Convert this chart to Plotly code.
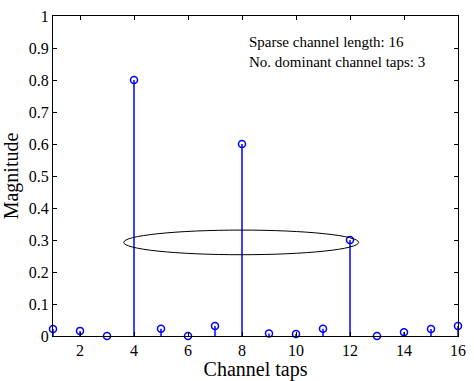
import plotly.graph_objects as go

taps = list(range(1, 17))
magnitude = [0.022, 0.016, 0.0, 0.8, 0.023, 0.0, 0.031, 0.6,
             0.008, 0.006, 0.023, 0.3, 0.0, 0.012, 0.022, 0.031]
x_ticks = [2, 4, 6, 8, 10, 12, 14, 16]
y_ticks = [0, 0.1, 0.2, 0.3, 0.4, 0.5, 0.6, 0.7, 0.8, 0.9, 1]
y_tick_labels = ["0", "0.1", "0.2", "0.3", "0.4", "0.5", "0.6", "0.7", "0.8", "0.9", "1"]
info_lines = ["Sparse channel length: 16", "No. dominant channel taps: 3"]

# ellipse highlighting dominant-tap region (data coords)
ell_x0, ell_x1 = 3.62, 12.32
ell_y0, ell_y1 = 0.254, 0.331

stem_x, stem_y = [], []
for xv, yv in zip(taps, magnitude):
    stem_x += [xv, xv, None]
    stem_y += [0, yv, None]

FONT = "Liberation Serif, Times New Roman, serif"
fig = go.Figure()
fig.add_trace(go.Scatter(x=stem_x, y=stem_y, mode="lines",
                         line=dict(color="#0000ff", width=1.5),
                         hoverinfo="skip", showlegend=False))
fig.add_trace(go.Scatter(x=taps, y=magnitude, mode="markers",
                         marker=dict(symbol="circle-open", size=7,
                                     color="#0000ff", line=dict(width=1.5)),
                         cliponaxis=False, showlegend=False))

fig.add_shape(type="circle", xref="x", yref="y",
              x0=ell_x0, x1=ell_x1, y0=ell_y0, y1=ell_y1,
              line=dict(color="black", width=1))

fig.add_annotation(text="<br>".join(info_lines), xref="paper", yref="paper",
                   x=0.48, y=0.95, xanchor="left", yanchor="top",
                   align="left", showarrow=False,
                   font=dict(family=FONT, size=15, color="black"))

axis_common = dict(showline=True, linecolor="black", linewidth=1,
                   mirror="ticks", ticks="inside", ticklen=4,
                   tickcolor="black", showgrid=False, zeroline=False,
                   tickfont=dict(family=FONT, size=16, color="black"))

fig.update_xaxes(range=[1, 16], tickvals=x_ticks,
                 title=dict(text="Channel taps", standoff=0,
                            font=dict(family=FONT, size=20, color="black")),
                 **axis_common)
fig.update_yaxes(range=[0, 1], tickvals=y_ticks, ticktext=y_tick_labels,
                 title=dict(text="Magnitude", standoff=4,
                            font=dict(family=FONT, size=20, color="black")),
                 **axis_common)

fig.update_layout(width=474, height=381,
                  margin=dict(l=53, r=8, t=10, b=42),
                  paper_bgcolor="white", plot_bgcolor="white")

fig.write_html("out.html")
